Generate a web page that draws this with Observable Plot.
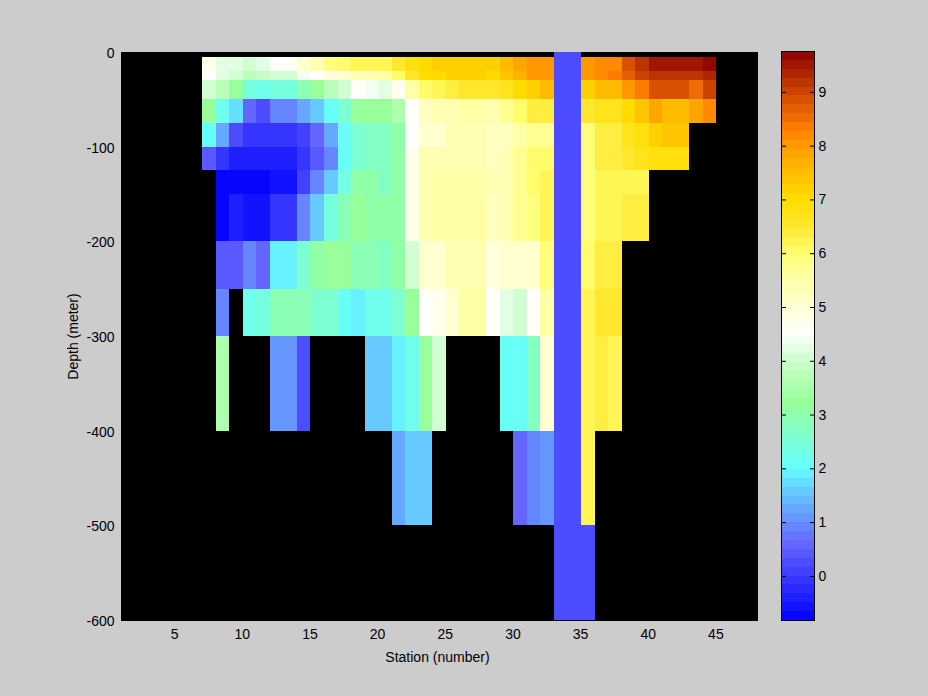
<!DOCTYPE html>
<html>
<head>
<meta charset="utf-8">
<script src="https://cdn.jsdelivr.net/npm/d3@7"></script>
<script src="https://cdn.jsdelivr.net/npm/@observablehq/plot@0.6"></script>
<style>
html,body{margin:0;padding:0;background:#cccccc;width:928px;height:696px;overflow:hidden}
#wrap{position:relative;width:928px;height:696px}
#wrap svg{position:absolute;left:0;top:0;background:transparent}
</style>
</head>
<body>
<div id="wrap"></div>
<script>
const n = null;
const firstStation = 7;
const depthTop    = [0,-5,-20,-30,-50,-75,-100,-125,-150,-200,-250,-300,-400,-500];
const depthBottom = [-5,-20,-30,-50,-75,-100,-125,-150,-200,-250,-300,-400,-500,-600];

const row00 = [n,n,n,n,n,n,n,n,n,n,n,n,n,n,n,n,n,n,n,n,n,n,n,n,n,n,.2,.2,n,n,n,n,n,n,n,n,n,n];
const row01 = [4.7,4.3,4.3,4.1,4.3,4.6,4.6,5.1,5.4,5.9,6.0,6.2,6.2,6.2,6.55,6.8,7.05,7.15,7.25,7.25,7.25,7.25,7.45,7.85,8,8,.2,.2,8,8.2,8.2,8.85,9.2,9.45,9.45,9.45,9.45,9.7];
const row02 = [4.55,4.25,4,3.8,3.85,4,4,4.35,4.55,4.85,5.1,5.4,5.4,5.5,6,6.55,6.95,7.1,7.25,7.25,7.25,7.05,7.4,7.7,8,8,.2,.2,8,8.15,8.3,8.7,9,9.25,9.25,9.25,9.25,9.3];
const row03 = [4,3.7,3.3,2.45,2.25,2.45,2.45,2.9,3.15,3.65,4.05,4.55,4.35,4.3,4.8,5.5,6,6.2,6.4,6.55,6.55,6.55,6.75,7,7.25,7.45,.2,.2,7.15,7.5,7.5,8,8.4,8.8,8.8,8.8,8.55,8.95];
const row04 = [3.2,2.3,1.75,.6,.25,.9,.9,1.2,1.5,2,2.5,3.2,3.2,3.2,3.6,4.5,5.2,5.3,5.3,5.5,5.5,5.35,5.7,6,6.35,6.35,.2,.2,6.5,6.75,6.75,7,7.4,7.8,7.6,7.6,7.85,8.2];
const row05 = [2,1.25,.25,0,0,0,0,.15,.6,1.3,2,2.6,2.7,2.7,3,4.55,5.1,5.1,5.3,5.3,5.3,5.15,5.25,5.5,5.7,5.7,.2,.2,5.9,6.3,6.3,6.7,6.9,7.2,7.35,7.35,n,n];
const row06 = [.4,0,-.4,-.4,-.4,-.4,-.4,0,.4,.95,2,2.55,2.7,2.7,3.1,4.7,5.3,5.4,5.4,5.45,5.45,5.15,5.3,5.65,6,6,.2,.2,5.9,6.3,6.3,6.55,6.65,6.9,6.9,6.9,n,n];
const row07 = [n,-.75,-.75,-.75,-.75,-.55,-.55,.15,.85,1.65,2.4,3.1,3.1,2.8,3,4.7,5.4,5.6,5.6,5.5,5.5,5.3,5.45,5.7,6,6.2,.2,.2,5.9,6.25,6.25,6.25,6.25,n,n,n,n,n];
const row08 = [n,-.75,-.35,-.55,-.55,0,0,.85,1.65,2.35,2.95,3.25,3.1,3,3.1,4.7,5.3,5.55,5.55,5.55,5.55,5.15,5.35,5.7,5.85,6.2,.2,.2,5.9,6.2,6.2,6.3,6.3,n,n,n,n,n];
const row09 = [n,.4,.4,.85,.6,1.9,1.9,2.55,3,3.2,3.2,2.9,2.9,2.8,3.1,4,5,5.05,5.3,5.3,5.3,4.95,5.1,5.1,5.05,5.9,.2,.2,6.1,6.4,6.4,n,n,n,n,n,n,n];
const row10 = [n,.9,n,2.3,2.45,2.85,2.85,2.85,2.65,2.65,2,1.85,2.2,2.2,2.6,3.25,4.6,4.75,5,5.5,5.5,4.55,4.3,4,4.5,5.6,.2,.2,6.15,6.5,6.5,n,n,n,n,n,n,n];
const row11 = [n,3.5,n,n,n,1.15,1.15,.2,n,n,n,n,1.6,1.6,1.85,2.2,3.3,4,n,n,n,n,2,2,2.8,5.1,.2,.2,6.15,6.45,6.2,n,n,n,n,n,n,n];
const row12 = [n,n,n,n,n,n,n,n,n,n,n,n,n,n,1.3,1.6,1.6,n,n,n,n,n,n,.6,.85,1,.2,.2,6.15,n,n,n,n,n,n,n,n,n];
const row13 = [n,n,n,n,n,n,n,n,n,n,n,n,n,n,n,n,n,n,n,n,n,n,n,n,n,n,.2,.2,.2,n,n,n,n,n,n,n,n,n];
const rows = [row00,row01,row02,row03,row04,row05,row06,row07,row08,row09,row10,row11,row12,row13];

const cells = rows.flatMap((r,i)=>r.map((v,j)=>({s1:firstStation+j,s2:firstStation+j+1,d1:depthTop[i],d2:depthBottom[i],v})).filter(c=>c.v!==null));

// colormap: 64 flat levels over the colour axis
const climLow = -0.82, climHigh = 9.76, levels = 64;
const stopValues = [-0.82,0.6,1.1,1.6,2,3.25,4,4.5,5.5,6.0,6.5,7,7.8,8.3,9,9.76];
const stopColors = ["#0000ff","#6666ff","#6699ff","#66ccff","#66ffff","#99ff99","#ccffcc","#ffffff","#ffffaa","#ffff70","#ffe830","#ffdd00","#ffaa00","#ff8000","#cc4400","#8b0000"];
const stopScale = d3.scaleLinear().domain(stopValues).range(stopColors).interpolate(d3.interpolateRgb);
const edges = d3.range(levels+1).map(i=>climLow+(climHigh-climLow)*i/levels);
const levelMid = d3.range(levels).map(i=>(edges[i]+edges[i+1])/2);
const levelColors = levelMid.map(stopScale);
const levelBars = levelMid.map((m,i)=>({y1:edges[i],y2:edges[i+1],v:m}));
const colorScale = {type:"threshold",domain:edges.slice(1,-1),range:levelColors};

const xTicks = [5,10,15,20,25,30,35,40,45];
const yTicks = [0,-100,-200,-300,-400,-500,-600];
const barTicks = [0,1,2,3,4,5,6,7,8,9];
const xTitle = ["Station (number)"];
const fontFamily = "'Liberation Sans',Arial,sans-serif";

const main = Plot.plot({
  width:928,height:696,marginLeft:121,marginRight:171,marginTop:52,marginBottom:76,
  style:{background:"transparent",fontFamily,fontSize:"14px",color:"#000"},
  x:{domain:[1,48]},
  y:{domain:[-600,0]},
  color:colorScale,
  marks:[
    Plot.frame({fill:"black",stroke:"black"}),
    Plot.rect(cells,{x1:"s1",x2:"s2",y1:"d1",y2:"d2",fill:"v",inset:0,shapeRendering:"crispEdges"}),
    Plot.axisX({ticks:xTicks,tickSize:0,tickPadding:9,label:null,dx:-1,tickFormat:d=>String(d)}),
    Plot.text(xTitle,{frameAnchor:"bottom",dx:-2,dy:41,fill:"black",fontSize:14}),
    Plot.axisY({ticks:yTicks,tickSize:0,tickPadding:7,dy:1,label:"Depth (meter)",labelAnchor:"center",labelArrow:"none",labelOffset:53,tickFormat:d=>String(d)})
  ]
});

const bar = Plot.plot({
  width:928,height:696,marginLeft:781,marginRight:114,marginTop:51,marginBottom:76,
  style:{background:"transparent",fontFamily,fontSize:"14px",color:"#000"},
  x:{domain:[0,1],axis:null},
  y:{domain:[climLow,climHigh]},
  color:colorScale,
  marks:[
    Plot.rect(levelBars,{x1:0,x2:1,y1:"y1",y2:"y2",fill:"v",shapeRendering:"crispEdges"}),
    Plot.frame({stroke:"black"}),
    Plot.axisY({anchor:"left",ticks:barTicks,tickSize:-5,tickFormat:()=>"",label:null}),
    Plot.axisY({anchor:"right",ticks:barTicks,tickSize:-5,tickPadding:9,label:null,tickFormat:d=>String(d)})
  ]
});

const wrap = document.getElementById("wrap");
wrap.appendChild(main);
wrap.appendChild(bar);
</script>
</body>
</html>
